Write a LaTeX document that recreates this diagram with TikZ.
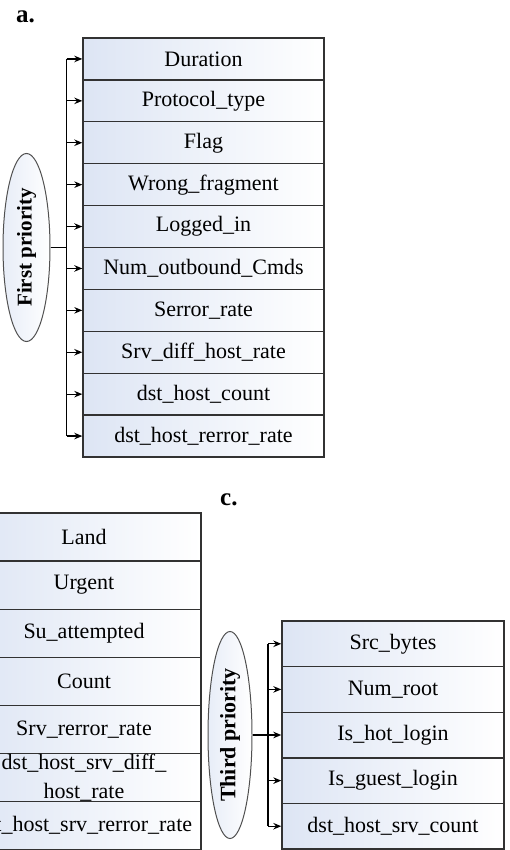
\documentclass[tikz,border=0pt]{standalone}
\usepackage{fontspec}
\setmainfont{Liberation Serif}
\usetikzlibrary{arrows.meta,shapes.geometric}

\definecolor{cellblue}{RGB}{221,229,244}
\definecolor{edgegray}{RGB}{50,50,50}
\definecolor{ovalgray}{RGB}{80,80,80}

\begin{document}
\begin{tikzpicture}[x=1pt,y=-1pt,
  cell/.style={draw=edgegray,line width=1.4pt,left color=cellblue,right color=white,
    rectangle,inner sep=0pt,align=center,font=\fontsize{22}{29}\selectfont},
  oval/.style={draw=ovalgray,line width=1pt,ellipse,inner sep=0pt,
    left color=cellblue!70,right color=white,font=\bfseries\fontsize{#1}{#1}\selectfont},
  bus/.style={line width=1.3pt,draw=black},
  feed/.style={line width=1.3pt,draw=black,-{Stealth[length=8pt,width=6.5pt]}},
  tag/.style={anchor=base west,inner sep=0pt,font=\bfseries\fontsize{25}{25}\selectfont}]

\useasboundingbox (0,0) rectangle (510,850);
\clip (0,0) rectangle (510,850);

% ---------- panel a: first priority features ----------
\node[tag] (tagA) at (16,23) {a.};
\foreach \t [count=\i] in {Duration,Protocol\_type,Flag,Wrong\_fragment,Logged\_in,
    Num\_outbound\_Cmds,Serror\_rate,Srv\_diff\_host\_rate,dst\_host\_count,dst\_host\_rerror\_rate}
  \node[cell,minimum width=241pt,minimum height=41.9pt] (a\i) at (203.5,{38+41.9*(\i-0.5)}) {\t};

\node[oval=21,minimum width=47pt,minimum height=188pt] (ovA) at (26.5,247.5)
  {\rotatebox{90}{First priority}};
\coordinate (jA) at (66.5,247.5);
\draw[bus] (ovA.east) -- (jA);
\draw[bus] (jA |- a1.west) -- (jA |- a10.west);
\foreach \i in {1,...,10}
  \draw[feed] (jA |- a\i.west) -- (a\i.west);

% ---------- panel b: second priority features ----------
\foreach \t [count=\i] in {Land,Urgent,Su\_attempted,Count,Srv\_rerror\_rate,
    {dst\_host\_srv\_diff\_\\host\_rate},dst\_host\_srv\_rerror\_rate}
  \node[cell,minimum width=234pt,minimum height=48.1pt] (b\i) at (84,{513+48.1*(\i-0.5)}) {\t};

% ---------- panel c: third priority features ----------
\node[tag] (tagC) at (220,505) {c.};
\foreach \t [count=\i] in {Src\_bytes,Num\_root,Is\_hot\_login,Is\_guest\_login,dst\_host\_srv\_count}
  \node[cell,minimum width=222pt,minimum height=45.6pt] (c\i) at (393,{621+45.6*(\i-0.5)}) {\t};

\node[oval=22,minimum width=44pt,minimum height=207pt] (ovC) at (230,735)
  {\rotatebox{90}{Third priority}};
\coordinate (jC) at (268,735);
\draw[bus] (ovC.east) -- (jC);
\draw[bus] (jC |- c1.west) -- (jC |- c5.west);
\foreach \i in {1,...,5}
  \draw[feed] (jC |- c\i.west) -- (c\i.west);

\end{tikzpicture}
\end{document}
